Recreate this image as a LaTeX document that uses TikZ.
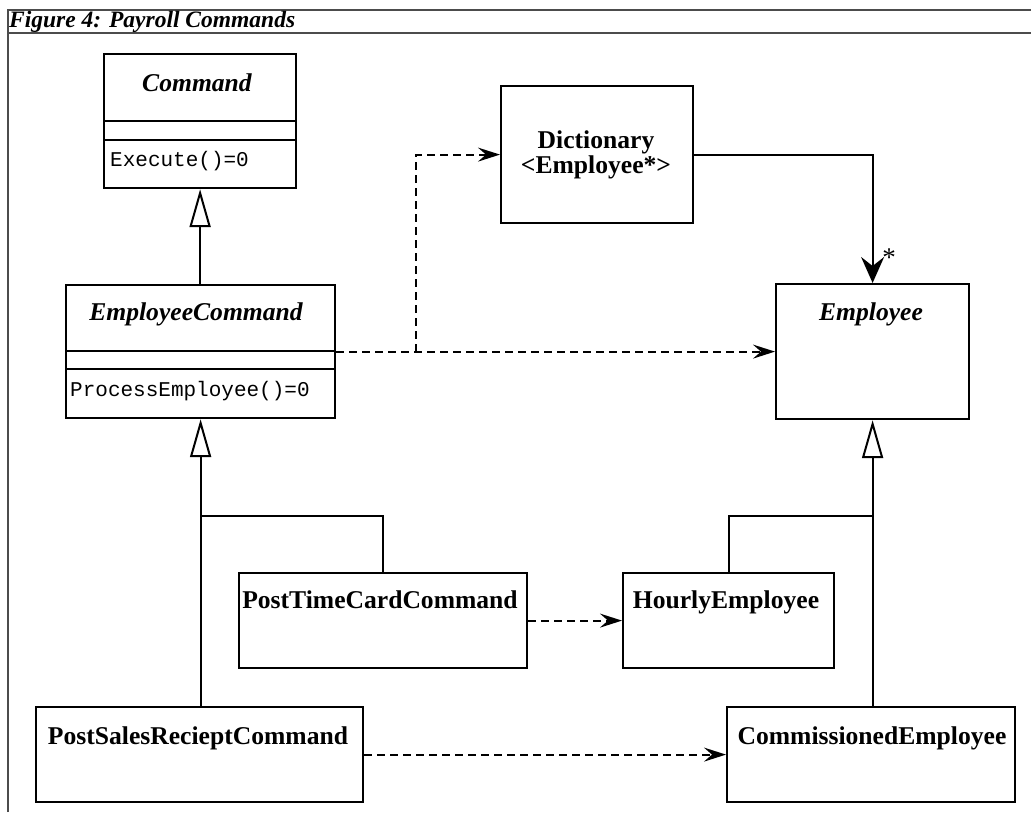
\documentclass[tikz,border=0pt]{standalone}
\usepackage{fontspec}
\setmainfont{Liberation Serif}
\setmonofont{Liberation Mono}
\usetikzlibrary{arrows.meta}
\begin{document}
\begin{tikzpicture}[x=1pt,y=-1pt,
  box/.style={draw, line width=2.2pt, inner sep=0pt, anchor=north west},
  cname/.style={font=\fontsize{25.6}{25.6}\selectfont\bfseries, inner sep=0pt, anchor=base},
  oper/.style={font=\fontsize{21}{21}\selectfont\ttfamily, inner sep=0pt, anchor=base west},
  divider/.style={line width=2.2pt},
  frame/.style={line width=2pt, black!70},
  conn/.style={line width=2pt},
  gen/.style={conn, -{Triangle[open,length=38pt,width=21pt]}},
  dep/.style={conn, dash pattern=on 8pt off 5pt, -{Stealth[length=22pt,width=14pt,inset=8pt]}},
  comp/.style={conn, -{Stealth[length=26pt,width=23pt,inset=9pt]}}
]
\useasboundingbox (0,0) rectangle (1031,812);
% frame
\draw[frame] (8,812) -- (8,10) -- (1031,10);
\draw[frame] (8,33) -- (1031,33);
\node[font=\fontsize{23.5}{24}\selectfont\bfseries\itshape, inner sep=0pt, anchor=base west] (title) at (9,27) {Figure 4: Payroll Commands};

% Command
\node[box, minimum width=192pt, minimum height=134pt] (cmd) at (103,53) {};
\draw[divider] (103,121) -- (295,121);
\draw[divider] (103,140) -- (295,140);
\node[cname] (cmdt) at (197,91) {\itshape Command};
\node[oper] (cmdo) at (110,166) {Execute()=0};

% EmployeeCommand
\node[box, minimum width=269pt, minimum height=133pt] (ec) at (65,284) {};
\draw[divider] (65,351) -- (334,351);
\draw[divider] (65,369) -- (334,369);
\node[cname] (ect) at (196,320) {\itshape EmployeeCommand};
\node[oper] (eco) at (70,396) {ProcessEmployee()=0};

% Dictionary
\node[box, minimum width=192pt, minimum height=137pt] (dict) at (500,85) {};
\node[cname] (dictt1) at (596,148) {Dictionary};
\node[cname] (dictt2) at (596,173) {<Employee*>};

% Employee
\node[box, minimum width=193pt, minimum height=135pt] (emp) at (775,283) {};
\node[cname] (empt) at (871,320) {\itshape Employee};

% PostTimeCardCommand
\node[box, minimum width=288pt, minimum height=95pt] (ptc) at (238,572) {};
\node[cname] (ptct) at (380,608) {PostTimeCardCommand};

% HourlyEmployee
\node[box, minimum width=211pt, minimum height=95pt] (hre) at (622,572) {};
\node[cname] (hret) at (726,608) {HourlyEmployee};

% PostSalesRecieptCommand
\node[box, minimum width=327pt, minimum height=95pt] (pss) at (35,706) {};
\node[cname] (psst) at (198,744) {PostSalesRecieptCommand};

% CommissionedEmployee
\node[box, minimum width=288pt, minimum height=95pt] (cme) at (726,706) {};
\node[cname] (cmet) at (872,744) {CommissionedEmployee};

% junction coordinates
\coordinate (j) at (416,0);
\coordinate (bl) at (0,516);

% generalizations
\draw[gen] (cmd.south |- ec.north) -- (cmd.south);
\draw[gen] (pss.north -| ec.south) -- (ec.south);
\draw[conn] (ptc.north) |- (bl -| ec.south);
\draw[gen] (cme.north -| emp.south) -- (emp.south);
\draw[conn] (hre.north) |- (bl -| emp.south);

% dependencies
\draw[dep] (emp.west -| ec.east) -- (emp.west);
\draw[dep] (emp.west -| j) |- (dict.west);
\draw[dep] (ptc.east) -- (hre.west);
\draw[dep] (pss.east) -- (cme.west);

% association
\draw[comp] (dict.east) -| (emp.north);
\node[font=\fontsize{27}{27}\selectfont, inner sep=0pt, anchor=base] (mult) at (889,266) {*};
\end{tikzpicture}
\end{document}
